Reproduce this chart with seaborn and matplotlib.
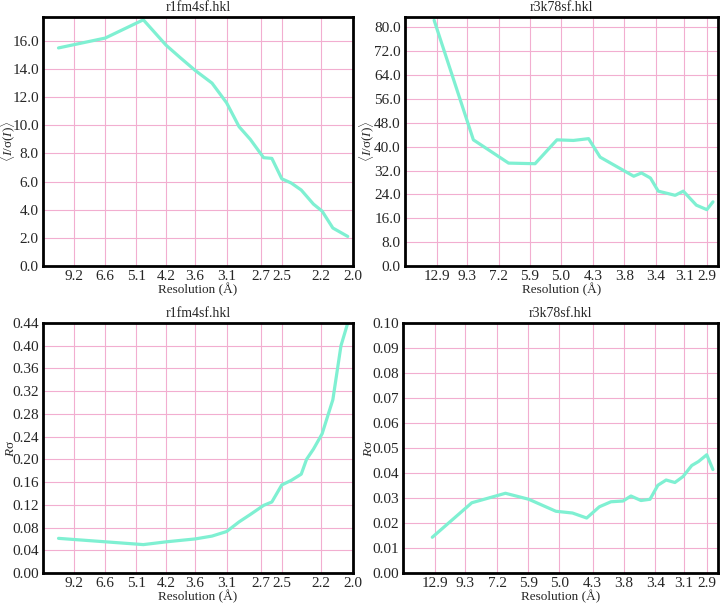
import numpy as np
import pandas as pd
import seaborn as sns
import matplotlib.pyplot as plt

# r1fm4sf.hkl - resolution shells (Å) and values
res_1fm4_isig = [11.53, 6.57, 4.86, 4.21, 3.88, 3.59, 3.31, 3.10, 2.94, 2.81,
                 2.67, 2.59, 2.50, 2.42, 2.34, 2.25, 2.19, 2.12, 2.03]
isig_1fm4 = [15.5, 16.2, 17.5, 15.7, 14.8, 13.9, 13.0, 11.6, 9.9, 9.0,
             7.7, 7.65, 6.2, 5.9, 5.4, 4.4, 3.9, 2.7, 2.1]

res_1fm4_rsig = [11.53, 4.86, 4.19, 3.59, 3.31, 3.10, 2.94, 2.81, 2.67, 2.59,
                 2.50, 2.42, 2.34, 2.30, 2.25, 2.19, 2.12, 2.07, 2.03]
rsig_1fm4 = [0.061, 0.050, 0.055, 0.060, 0.065, 0.073, 0.090, 0.103, 0.119, 0.125,
             0.155, 0.163, 0.174, 0.200, 0.218, 0.245, 0.305, 0.400, 0.440]

# r3k78sf.hkl
res_3k78_isig = [13.35, 8.79, 6.73, 5.72, 5.09, 4.70, 4.39, 4.18, 3.99, 3.67,
                 3.57, 3.46, 3.37, 3.19, 3.11, 2.99, 2.90, 2.85]
isig_3k78 = [82.4, 42.3, 34.5, 34.3, 42.3, 42.1, 42.7, 36.5, 34.3, 30.1,
             31.2, 29.5, 25.1, 23.7, 25.1, 20.4, 18.9, 21.5]

res_3k78_rsig = [13.35, 8.79, 6.81, 5.89, 5.09, 4.70, 4.41, 4.18, 3.99, 3.81,
                 3.70, 3.57, 3.46, 3.37, 3.28, 3.19, 3.11, 3.03, 2.97, 2.90, 2.85]
rsig_3k78 = [0.0143, 0.0281, 0.0319, 0.0295, 0.0247, 0.0240, 0.0220, 0.0265, 0.0285, 0.0288,
             0.0308, 0.0290, 0.0295, 0.0351, 0.0372, 0.0362, 0.0386, 0.0430, 0.0446, 0.0473, 0.0414]

ticks_1fm4 = [9.2, 6.6, 5.1, 4.2, 3.6, 3.1, 2.7, 2.5, 2.2, 2.0]
ticks_3k78 = [12.9, 9.3, 7.2, 5.9, 5.0, 4.3, 3.8, 3.4, 3.1, 2.9]

sns.set_theme(style="white")
plt.rcParams['font.family'] = ['Liberation Serif', 'DejaVu Serif']
plt.rcParams['mathtext.fontset'] = 'custom'
plt.rcParams['mathtext.rm'] = 'Liberation Serif'
plt.rcParams['mathtext.it'] = 'Liberation Serif:italic'

line_color = '#7ff0d2'
grid_color = '#f2aed0'

fig = plt.figure(figsize=(7.2, 6.04), dpi=100)
ax_tl = fig.add_axes([0.0597, 0.5596, 0.4306, 0.4123])
ax_tr = fig.add_axes([0.5625, 0.5596, 0.4347, 0.4123])
ax_bl = fig.add_axes([0.0597, 0.0513, 0.4306, 0.4139])
ax_br = fig.add_axes([0.5597, 0.0513, 0.4375, 0.4139])


def panel(ax, res, vals, ticks, xlim, ylim, yticks, yfmt, ylabel, title, lab_x):
    df = pd.DataFrame({'inv': 1.0 / np.array(res), 'val': vals})
    sns.lineplot(data=df, x='inv', y='val', ax=ax, color=line_color,
                 linewidth=2.3, sort=False)
    ax.set_xlim(1.0 / xlim[0], 1.0 / xlim[1])
    ax.set_ylim(*ylim)
    ax.set_xticks([1.0 / t for t in ticks])
    ax.set_xticklabels([f'{t:.1f}' for t in ticks])
    ax.set_yticks(yticks)
    ax.set_yticklabels([yfmt.format(v) for v in yticks])
    ax.grid(True, color=grid_color, linewidth=0.8)
    ax.tick_params(length=0, labelsize=11, pad=3)
    for s in ax.spines.values():
        s.set_color('black')
        s.set_linewidth(2)
    ax.set_xlabel('Resolution (Å)', fontsize=9.5, labelpad=0)
    ax.set_ylabel(ylabel, fontsize=9.5)
    ax.yaxis.set_label_coords(lab_x, 0.5)
    ax.set_title(title, fontsize=10, pad=4)


isig_label = r'$\langle I/$σ$(I)\rangle$'
rsig_label = r'$R$σ'

panel(ax_tl, res_1fm4_isig, isig_1fm4, ticks_1fm4, (15.4, 2.0), (0, 17.7),
      np.arange(0, 17, 2.0), '{:.1f}', isig_label, 'r1fm4sf.hkl', -0.082)
panel(ax_tr, res_3k78_isig, isig_3k78, ticks_3k78, (21.7, 2.81), (0, 83.5),
      np.arange(0, 81, 8.0), '{:.1f}', isig_label, 'r3k78sf.hkl', -0.09)
panel(ax_bl, res_1fm4_rsig, rsig_1fm4, ticks_1fm4, (15.4, 2.0), (0, 0.44),
      np.arange(0, 0.441, 0.04), '{:.2f}', rsig_label, 'r1fm4sf.hkl', -0.085)
panel(ax_br, res_3k78_rsig, rsig_3k78, ticks_3k78, (21.7, 2.81), (0, 0.1),
      np.arange(0, 0.101, 0.01), '{:.2f}', rsig_label, 'r3k78sf.hkl', -0.09)

plt.savefig('out.png', dpi=100)
